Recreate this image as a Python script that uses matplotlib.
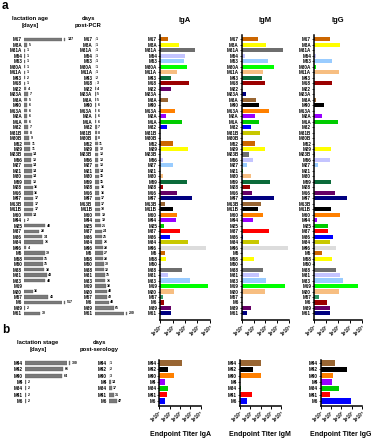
import numpy as np
import matplotlib
matplotlib.use('Agg')
import matplotlib.pyplot as plt
from matplotlib.ticker import NullLocator

plt.rcParams['font.family'] = ['Liberation Sans', 'DejaVu Sans']
plt.rcParams['font.weight'] = 'bold'

W, H = 372, 440

# ---- panel a data ----
mice_a = ['M17', 'M8A', 'M31A', 'M54', 'M53', 'M30A', 'M11A', 'M43', 'M18', 'M22',
          'M23A', 'M3A', 'M40', 'M13A', 'M2A', 'M1A', 'M32', 'M31B', 'M30B', 'M52',
          'M29', 'M23B', 'M56', 'M27', 'M21', 'M30', 'M59', 'M28', 'M16', 'M47',
          'M13B', 'M11B', 'M60', 'M44', 'M25', 'M37', 'M36', 'M34', 'M46', 'M5',
          'M58', 'M50', 'M38', 'M31', 'M33', 'M19', 'M20', 'M57', 'M6', 'M39', 'M61']
lact_age = [147, 5, 1, 1, 1, 1, 1, 2, 1, 4,
            7, 5, 6, 6, 6, 6, 7, 8, 9, 11,
            11, 14, 13, 14, 14, 14, 13, 16, 16, 17,
            17, 17, 14, 2, 40, 28, 34, 36, 4, 39,
            35, 35, 38, 43, 40, np.nan, 16, 46, 517, 2, 30]
post_pcr = [1, 1, 1, 1, 1, 1, 1, 2, 3, 4,
            5, 5, 6, 6, 6, 6, 7, 8, 8, 11,
            12, 13, 13, 13, 14, 15, 15, 16, 16, 17,
            17, 18, 19, 19, 21, 24, 25, 26, 28, 27,
            28, 30, 32, 35, 36, 38, 40, 42, 48, 65, 200]
iga_a = [4.4, 35, 680, 107, 83, 155, 21, 8, 210, 7,
         0, 4.7, 0, 17, 2.8, 62, 3.6, 0, 0, 10,
         186, 0, 1.9, 10, 0, 1.9, 145, 1.9, 23, 340,
         2.5, 10, 21, 18, 2.1, 40, 5.9, 186, 5100, 2.3,
         3.2, 0, 58, 4.4, 250, 6500, 14, 1.6, 2.2, 7, 7]
igm_a = [22, 107, 3300, 1.9, 178, 500, 59, 56, 93, 0,
         2.5, 16, 28, 190, 13.5, 31, 6.6, 33, 1.4, 13.5,
         87, 4.5, 8.5, 2.6, 1.3, 6.2, 263, 5.4, 7.9, 575,
         43, 24, 59, 8.5, 0, 190, 1.3, 28, 8700, 0,
         10, 0, 68, 28, 120, 4570, 100, 0, 0, 5.8, 3.0]
igg_a = [20, 158, 0, 1.5, 29, 1.4, 129, 0, 31, 0,
         0, 1.5, 6.6, 0, 5, 107, 0, 0, 0, 0,
         26, 1.3, 22, 2.3, 0, 0, 26, 0, 59, 617,
         0, 28, 138, 1.8, 14, 16, 41, 20, 72, 4.5,
         31, 1.3, 72, 138, 245, 4900, 120, 2.6, 12, 22, 20]

dor, yel, gry, lav, lbl = '#CC6600', '#FFFF00', '#6E6E6E', '#C4C4FF', '#99CCFF'
lim, pch, dgr, drd, dpu = '#00FF00', '#F7BE81', '#0B6B3A', '#9B0000', '#660066'
nav, brn, blk, org, pur = '#000080', '#996633', '#000000', '#FF8000', '#9900FF'
grn, blu, olv, lgr, red = '#00CC00', '#0000FF', '#C8C800', '#DCDCDC', '#FF0000'
colors_a = [dor, yel, gry, lav, lbl, lim, pch, dgr, drd, dpu,
            nav, brn, blk, org, pur, grn, blu, olv, lgr, dor,
            yel, gry, lav, lbl, lim, pch, dgr, drd, dpu, nav,
            brn, blk, org, pur, grn, red, blu, olv, lgr, dor,
            yel, '#2E8B57', gry, lav, lbl, lim, pch, '#339966', drd, dpu, nav]

# ---- panel b data ----
mice_b = ['M44', 'M42', 'M40', 'M4', 'M34', 'M41', 'M6']
lact_stage = [300, 66, 64, 2, 2, 2, 2]
post_sero = [1, 2, 3, 14, 17, 31, 47]
iga_b = [170, 7.4, 25, 3.5, 7.4, 5.9, 3.3]
igm_b = [107, 17, 115, 0, 1.35, 15.5, 5.1]
igg_b = [26, 380, 17, 11.5, 55, 8.7, 930]
colors_b = [brn, blk, org, pur, grn, red, blu]

tick_vals = [1, 10, 100, 1000, 10000]
tick_text = ['1×10⁰', '1×10¹', '1×10²', '1×10³', '1×10⁴']

fig = plt.figure(figsize=(W / 100, H / 100), dpi=100)


def rect(x0, y0, x1, y1):
    return [x0 / W, 1 - y1 / H, (x1 - x0) / W, (y1 - y0) / H]


def days_panel(box, labels, vals, xmax, rowlim, bh):
    ax = fig.add_axes(rect(*box))
    y = np.arange(len(vals))
    for yi, v in zip(y, vals):
        if np.isnan(v):
            continue
        if v > xmax:
            ax.barh(yi, xmax, height=bh, color='#7A7A7A', edgecolor='#4A4A4A', linewidth=0.2)
            ax.barh(yi, xmax * 0.03, left=xmax * 1.05, height=bh, color='#7A7A7A',
                    edgecolor='#4A4A4A', linewidth=0.2, clip_on=False)
            ax.text(xmax * 1.13, yi, str(v), fontsize=2.5, va='center', ha='left')
        else:
            ax.barh(yi, v, height=bh, color='#7A7A7A', edgecolor='#4A4A4A', linewidth=0.2)
            ax.text(v + xmax * 0.04, yi, str(v), fontsize=2.5, va='center', ha='left')
    ax.set_xlim(0, xmax)
    ax.set_ylim(rowlim)
    ax.set_yticks(y, labels, fontsize=3.3)
    ax.tick_params(axis='y', length=0, pad=1.5)
    ax.set_xticks([])
    for s in ax.spines.values():
        s.set_visible(False)
    ax.patch.set_alpha(0)
    return ax


def titer_panel(box, labels, titers, colors, rowlim, bh):
    ax = fig.add_axes(rect(*box))
    ax.set_xscale('log')
    for i, (t, c) in enumerate(zip(titers, colors)):
        if t > 1:
            ax.barh(i, t - 1, left=1, height=bh, color=c, edgecolor='none')
    ax.set_xlim(1, 1e4)
    ax.set_ylim(rowlim)
    ax.set_yticks(range(len(labels)), labels, fontsize=3.3)
    ax.set_xticks(tick_vals, tick_text, fontsize=3.4)
    ax.xaxis.set_minor_locator(NullLocator())
    plt.setp(ax.get_xticklabels(), rotation=45, ha='right', rotation_mode='anchor')
    ax.tick_params(axis='y', length=1.5, width=0.5, pad=0.5)
    ax.tick_params(axis='x', length=2, width=0.7, pad=1)
    ax.spines['top'].set_visible(False)
    ax.spines['right'].set_visible(False)
    ax.spines['left'].set_linewidth(1.1)
    ax.spines['bottom'].set_linewidth(1.1)
    ax.patch.set_alpha(0)
    return ax


# panel a
rows_a = (51.2, -0.8)
days_panel((24.3, 35, 62.3, 320), mice_a, lact_age, 73, rows_a, 0.62)
days_panel((94.5, 35, 124.5, 320), mice_a, post_pcr, 100, rows_a, 0.62)
titer_panel((160, 35, 210, 320), mice_a, iga_a, colors_a, rows_a, 0.75)
titer_panel((241.7, 35, 289, 320), mice_a, igm_a, colors_a, rows_a, 0.75)
titer_panel((314, 35, 362, 320), mice_a, igg_a, colors_a, rows_a, 0.75)

# panel b
rows_b = (6.74, -0.47)
days_panel((25, 360, 66.7, 405.7), mice_b, lact_stage, 72, rows_b, 0.68)
days_panel((109, 360, 130, 405.7), mice_b, post_sero, 128, rows_b, 0.68)
titer_panel((159.3, 360, 200.7, 405.7), mice_b, iga_b, colors_b, rows_b, 0.8)
titer_panel((240, 360, 281.3, 405.7), mice_b, igm_b, colors_b, rows_b, 0.8)
titer_panel((320.7, 360, 362, 405.7), mice_b, igg_b, colors_b, rows_b, 0.8)


def ftext(x, y, s, size, **kw):
    fig.text(x / W, 1 - y / H, s, fontsize=size, ha=kw.pop('ha', 'center'),
             va=kw.pop('va', 'center'), linespacing=1.35, **kw)


ftext(2, 6, 'a', 8.5, ha='left')
ftext(30, 22, 'lactation age\n[days]', 4.2)
ftext(88, 22, 'days\npost-PCR', 4.2)
ftext(185, 21, 'IgA', 5.5)
ftext(265, 21, 'IgM', 5.5)
ftext(338, 21, 'IgG', 5.5)

ftext(2, 330, 'b', 8.5, ha='left')
ftext(38, 346, 'lactation stage\n[days]', 4.2)
ftext(99, 346, 'days\npost-serology', 4.2)
ftext(180, 434, 'Endpoint Titer IgA', 5)
ftext(260, 434, 'Endpoint Titer IgM', 5)
ftext(341, 434, 'Endpoint Titer IgG', 5)

fig.savefig('out.png', dpi=100)
